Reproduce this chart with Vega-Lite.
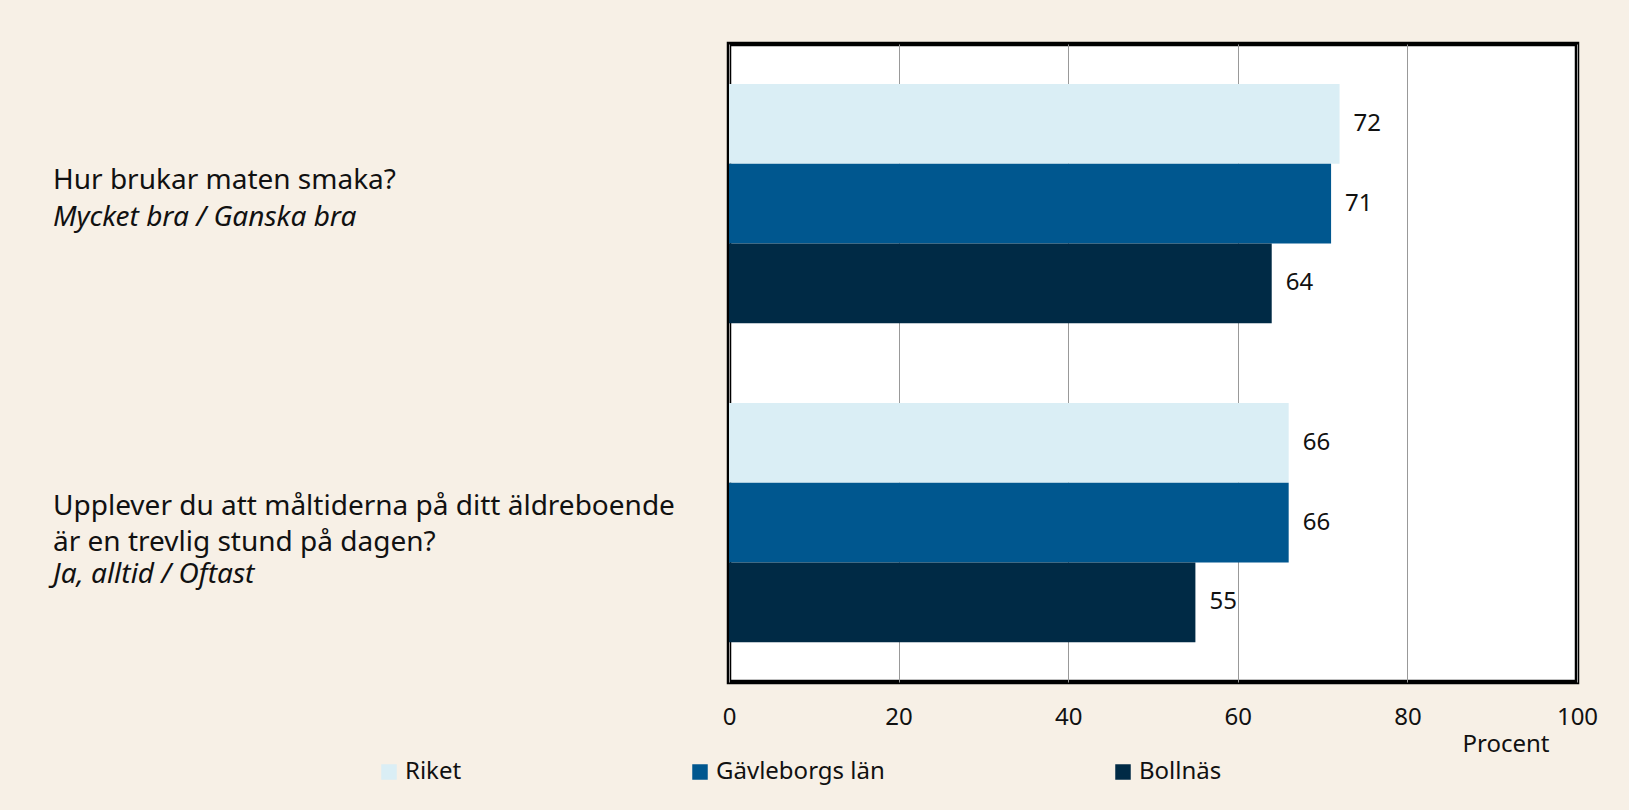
{
  "$schema": "https://vega.github.io/schema/vega-lite/v6.json",
  "background": "#F7F0E6",
  "padding": {"left": 53, "top": 41, "right": 40, "bottom": 26},
  "autosize": {"type": "pad"},
  "datasets": {
    "bars": [
      {"q": "Hur brukar maten smaka?", "region": "Riket", "value": 72},
      {"q": "Hur brukar maten smaka?", "region": "Gävleborgs län", "value": 71},
      {"q": "Hur brukar maten smaka?", "region": "Bollnäs", "value": 64},
      {"q": "Upplever du att måltiderna på ditt äldreboende är en trevlig stund på dagen?", "region": "Riket", "value": 66},
      {"q": "Upplever du att måltiderna på ditt äldreboende är en trevlig stund på dagen?", "region": "Gävleborgs län", "value": 66},
      {"q": "Upplever du att måltiderna på ditt äldreboende är en trevlig stund på dagen?", "region": "Bollnäs", "value": 55}
    ],
    "labels": [
      {"q": "Hur brukar maten smaka?", "nlines": 2, "line": 1, "italic": false, "text": "Hur brukar maten smaka?"},
      {"q": "Hur brukar maten smaka?", "nlines": 2, "line": 2, "italic": true, "text": "Mycket bra / Ganska bra"},
      {"q": "Upplever du att måltiderna på ditt äldreboende är en trevlig stund på dagen?", "nlines": 3, "line": 1, "italic": false, "text": "Upplever du att måltiderna på ditt äldreboende"},
      {"q": "Upplever du att måltiderna på ditt äldreboende är en trevlig stund på dagen?", "nlines": 3, "line": 2, "italic": false, "text": "är en trevlig stund på dagen?"},
      {"q": "Upplever du att måltiderna på ditt äldreboende är en trevlig stund på dagen?", "nlines": 3, "line": 3, "italic": true, "text": "Ja, alltid / Oftast"}
    ]
  },
  "resolve": {"scale": {"y": "shared"}},
  "spacing": 15,
  "hconcat": [
    {
      "width": 651,
      "height": 638,
      "view": {"stroke": null, "fill": null},
      "data": {"name": "labels"},
      "encoding": {
        "y": {"field": "q", "type": "nominal", "axis": null,
              "scale": {"type": "band", "paddingInner": 0.25, "paddingOuter": 0.125}},
        "x": {"datum": 0, "type": "quantitative", "scale": {"domain": [0, 1]}, "axis": null},
        "text": {"field": "text", "type": "nominal"}
      },
      "layer": [
        {
          "transform": [{"filter": "datum.line == 1 && datum.nlines == 2"}],
          "mark": {"type": "text", "align": "left", "baseline": "alphabetic", "dy": -15, "fontSize": 28, "font": "Noto Sans", "color": "#111"}
        },
        {
          "transform": [{"filter": "datum.line == 1 && datum.nlines == 3"}],
          "mark": {"type": "text", "align": "left", "baseline": "alphabetic", "dy": -8, "fontSize": 28, "font": "Noto Sans", "color": "#111"}
        },
        {
          "transform": [{"filter": "datum.line == 2 && !datum.italic"}],
          "mark": {"type": "text", "align": "left", "baseline": "alphabetic", "dy": 28, "fontSize": 28, "font": "Noto Sans", "color": "#111"}
        },
        {
          "transform": [{"filter": "datum.line == 2 && datum.italic"}],
          "mark": {"type": "text", "align": "left", "baseline": "alphabetic", "dy": 22, "fontSize": 28, "font": "Noto Sans", "fontStyle": "italic", "color": "#111"}
        },
        {
          "transform": [{"filter": "datum.line == 3"}],
          "mark": {"type": "text", "align": "left", "baseline": "alphabetic", "dy": 60, "fontSize": 28, "font": "Noto Sans", "fontStyle": "italic", "color": "#111"}
        }
      ]
    },
    {
      "width": 848,
      "height": 638,
      "view": {"stroke": "#000", "strokeWidth": 4.5, "fill": "#ffffff"},
      "data": {"name": "bars"},
      "encoding": {
        "y": {"field": "q", "type": "nominal", "axis": null,
              "scale": {"type": "band", "paddingInner": 0.25, "paddingOuter": 0.125}},
        "yOffset": {"field": "region", "type": "nominal",
                    "sort": ["Riket", "Gävleborgs län", "Bollnäs"],
                    "scale": {"paddingInner": 0, "paddingOuter": 0}},
        "x": {"field": "value", "type": "quantitative",
              "scale": {"domain": [0, 100], "nice": false},
              "axis": {
                "values": [0, 20, 40, 60, 80, 100],
                "title": "Procent",
                "titleFont": "Noto Sans", "titleFontSize": 24, "titleFontWeight": "normal", "titleColor": "#111",
                "titleAnchor": null, "titleAlign": "right", "titleBaseline": "alphabetic",
                "titleX": 820, "titleY": 69,
                "labelFont": "Noto Sans", "labelFontSize": 24, "labelColor": "#111",
                "labelPadding": 23, "labelBaseline": "top",
                "ticks": false, "tickSize": 0, "domain": false,
                "grid": true, "gridColor": "#999999", "gridWidth": 1,
                "labelFlush": false, "labelOverlap": false
              }}
      },
      "layer": [
        {
          "mark": {"type": "bar"},
          "encoding": {
            "color": {"field": "region", "type": "nominal",
                      "sort": ["Riket", "Gävleborgs län", "Bollnäs"],
                      "scale": {"domain": ["Riket", "Gävleborgs län", "Bollnäs"], "range": ["#DAEEF5", "#00578F", "#002A45"]},
                      "legend": {
                        "orient": "none", "legendX": 324, "legendY": 716,
                        "direction": "horizontal", "title": null,
                        "symbolType": "square", "symbolSize": 240, "symbolStrokeWidth": 0,
                        "labelFont": "Noto Sans", "labelFontSize": 24, "labelColor": "#111",
                        "labelOffset": 4, "columnPadding": 226, "gridAlign": "none",
                        "padding": 0, "labelLimit": 400
                      }}
          }
        },
        {
          "mark": {"type": "text", "align": "left", "baseline": "middle", "dx": 14, "fontSize": 24, "font": "Noto Sans", "color": "#111"},
          "encoding": {"text": {"field": "value", "type": "quantitative"}}
        }
      ]
    }
  ]
}
